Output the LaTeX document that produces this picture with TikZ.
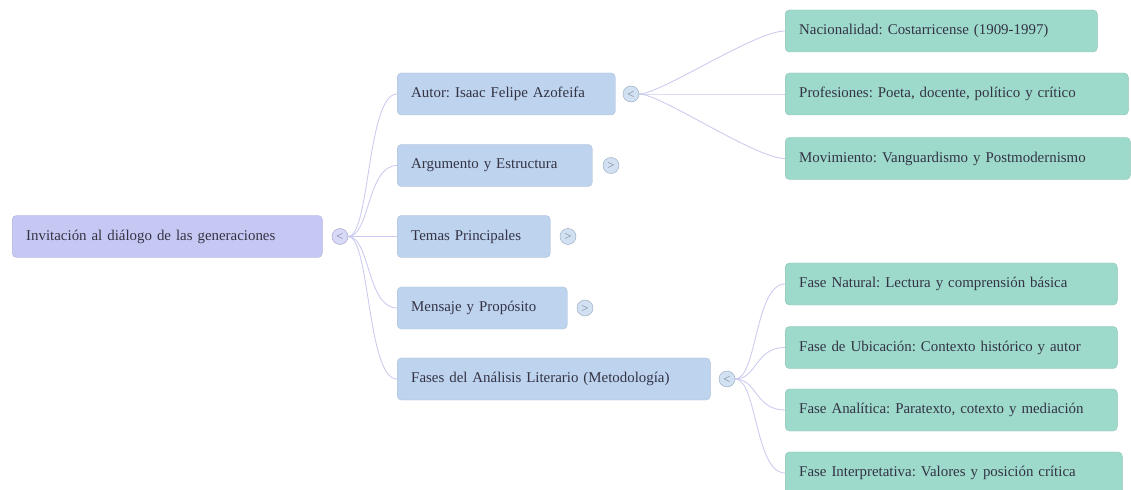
\documentclass[tikz,border=0pt]{standalone}
\usepackage{fontspec}
\setmainfont{Liberation Serif}
\frenchspacing
\usetikzlibrary{positioning, calc, backgrounds}
\definecolor{cRoot}{HTML}{C6C8F4}
\definecolor{cMain}{HTML}{BED3EE}
\definecolor{cLeaf}{HTML}{9DDACB}
\definecolor{cLink}{HTML}{C9CAEE}
\definecolor{cText}{HTML}{333344}
\tikzset{
  mmbox/.style={
    fill=#1, draw=#1!90!black, line width=0.3pt,
    rounded corners=3pt,
    inner xsep=0.35cm,
    minimum height=1.05cm,
    anchor=west,
    align=left,
    text=cText,
    font=\fontsize{10.6}{13}\selectfont
  },
  rootbox/.style={mmbox=cRoot, text width=#1},
  mainbox/.style={mmbox=cMain, text width=#1},
  leafbox/.style={mmbox=cLeaf, text width=#1},
  fold/.style={
    circle, inner sep=0pt, minimum size=0.4cm,
    fill=#1!70!white, draw=#1!80!black, line width=0.3pt,
    text=cText!70, font=\fontsize{6}{6}\selectfont
  },
  link/.style={draw=cLink, line width=0.6pt}
}
\newcommand{\mmlink}[2]{%
  \draw[link] (#1) .. controls +(30,0) and +(-30,0) .. (#2.west);%
}

\begin{document}
\begin{tikzpicture}[x=0.025cm, y=-0.025cm]
  \useasboundingbox (0,0) rectangle (1131,490);

  % root
  \node[rootbox=7.05cm] (root) at (12,236.5) {Invitación al diálogo de las generaciones};
  \node[fold=cRoot] (froot) at (340,236.5) {$<$};

  % first level
  \node[mainbox=4.75cm] (autor) at (397,94) {Autor: Isaac Felipe Azofeifa};
  \node[mainbox=4.175cm] (arg) at (397,165.5) {Argumento y Estructura};
  \node[mainbox=3.125cm] (temas) at (397,236.5) {Temas Principales};
  \node[mainbox=3.55cm] (msj) at (397,308) {Mensaje y Propósito};
  \node[mainbox=7.125cm] (fases) at (397,379) {Fases del Análisis Literario (Metodología)};

  \node[fold=cMain] (fautor) at (631,94) {$<$};
  \node[fold=cMain] (farg) at (611,165.5) {$>$};
  \node[fold=cMain] (ftemas) at (568,236.5) {$>$};
  \node[fold=cMain] (fmsj) at (585,308) {$>$};
  \node[fold=cMain] (ffases) at (727,379) {$<$};

  % second level
  \node[leafbox=7.1cm] (nac) at (785,31) {Nacionalidad: Costarricense (1909-1997)};
  \node[leafbox=7.875cm] (prof) at (785,94) {Profesiones: Poeta, docente, político y crítico};
  \node[leafbox=7.925cm] (mov) at (785,158.5) {Movimiento: Vanguardismo y Postmodernismo};
  \node[leafbox=7.6cm] (nat) at (785,284) {Fase Natural: Lectura y comprensión básica};
  \node[leafbox=7.6cm] (ubi) at (785,347.5) {Fase de Ubicación: Contexto histórico y autor};
  \node[leafbox=7.6cm] (ana) at (785,410) {Fase Analítica: Paratexto, cotexto y mediación};
  \node[leafbox=7.725cm] (int) at (785,473) {Fase Interpretativa: Valores y posición crítica};

  \begin{pgfonlayer}{background}
    \foreach \c in {autor, arg, temas, msj, fases} {\mmlink{froot}{\c}}
    \foreach \c in {nac, prof, mov} {\mmlink{fautor}{\c}}
    \foreach \c in {nat, ubi, ana, int} {\mmlink{ffases}{\c}}
  \end{pgfonlayer}
\end{tikzpicture}
\end{document}
